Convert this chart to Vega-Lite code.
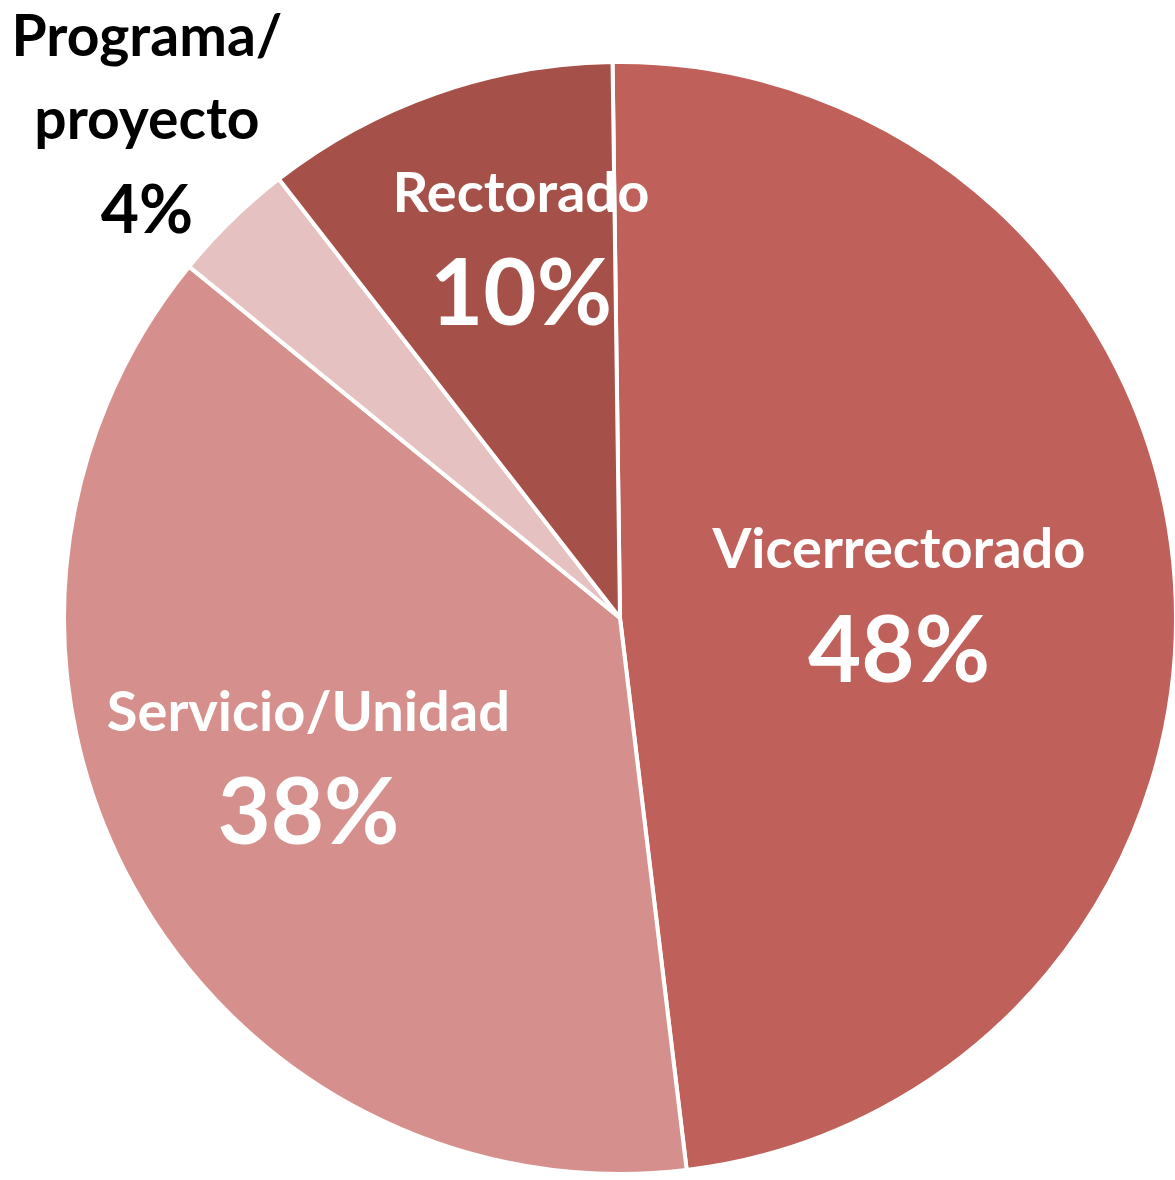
{
  "$schema": "https://vega.github.io/schema/vega-lite/v6.json",
  "width": 1110,
  "height": 1110,
  "padding": {"left": 65, "top": 63, "right": 0, "bottom": 0},
  "autosize": {"type": "none"},
  "background": "white",
  "config": {"view": {"stroke": null}},
  "data": {
    "values": [
      {"cat": "Vicerrectorado", "ord": 1, "value": 48.3, "pct": "48%"},
      {"cat": "Servicio/Unidad", "ord": 2, "value": 37.8, "pct": "38%"},
      {"cat": "Programa/proyecto", "ord": 3, "value": 3.6, "pct": "4%"},
      {"cat": "Rectorado", "ord": 4, "value": 10.3, "pct": "10%"}
    ]
  },
  "encoding": {
    "theta": {"field": "value", "type": "quantitative", "stack": true, "scale": {"range": [-0.0134, 6.2698]}},
    "order": {"field": "ord", "type": "quantitative"}
  },
  "layer": [
    {
      "mark": {"type": "arc", "outerRadius": 556, "stroke": "white", "strokeWidth": 4},
      "encoding": {
        "color": {
          "field": "cat", "type": "nominal", "legend": null,
          "scale": {
            "domain": ["Vicerrectorado", "Servicio/Unidad", "Programa/proyecto", "Rectorado"],
            "range": ["#C0605A", "#D5908E", "#E5C2C1", "#A6504A"]
          }
        }
      }
    },
    {
      "mark": {"type": "text", "radius": 279.6, "dy": -31.5, "fontSize": 56, "font": "Lato", "fontWeight": "bold", "fill": "white", "align": "center", "baseline": "alphabetic"},
      "encoding": {"text": {"condition": {"test": "datum.cat === 'Vicerrectorado'", "field": "cat"}, "value": ""}}
    },
    {
      "mark": {"type": "text", "radius": 279.6, "dy": 82.5, "fontSize": 92, "font": "Lato", "fontWeight": "bold", "fill": "white", "align": "center", "baseline": "alphabetic"},
      "encoding": {"text": {"condition": {"test": "datum.cat === 'Vicerrectorado'", "field": "pct"}, "value": ""}}
    },
    {
      "mark": {"type": "text", "radius": 355.7, "dy": -58.8, "fontSize": 56, "font": "Lato", "fontWeight": "bold", "fill": "white", "align": "center", "baseline": "alphabetic"},
      "encoding": {"text": {"condition": {"test": "datum.cat === 'Servicio/Unidad'", "field": "cat"}, "value": ""}}
    },
    {
      "mark": {"type": "text", "radius": 355.7, "dy": 54.2, "fontSize": 92, "font": "Lato", "fontWeight": "bold", "fill": "white", "align": "center", "baseline": "alphabetic"},
      "encoding": {"text": {"condition": {"test": "datum.cat === 'Servicio/Unidad'", "field": "pct"}, "value": ""}}
    },
    {
      "mark": {"type": "text", "radius": 299.5, "dy": -123.3, "fontSize": 56, "font": "Lato", "fontWeight": "bold", "fill": "white", "align": "center", "baseline": "alphabetic"},
      "encoding": {"text": {"condition": {"test": "datum.cat === 'Rectorado'", "field": "cat"}, "value": ""}}
    },
    {
      "mark": {"type": "text", "radius": 299.5, "dy": -10.3, "fontSize": 92, "font": "Lato", "fontWeight": "bold", "fill": "white", "align": "center", "baseline": "alphabetic"},
      "encoding": {"text": {"condition": {"test": "datum.cat === 'Rectorado'", "field": "pct"}, "value": ""}}
    },
    {
      "mark": {"type": "text", "radius": 677, "dy": -77.7, "fontSize": 57, "font": "Lato", "fontWeight": "bold", "fill": "black", "align": "center", "baseline": "alphabetic"},
      "encoding": {"text": {"condition": {"test": "datum.cat === 'Programa/proyecto'", "value": "Programa/"}, "value": ""}}
    },
    {
      "mark": {"type": "text", "radius": 677, "dy": 5.3, "fontSize": 57, "font": "Lato", "fontWeight": "bold", "fill": "black", "align": "center", "baseline": "alphabetic"},
      "encoding": {"text": {"condition": {"test": "datum.cat === 'Programa/proyecto'", "value": "proyecto"}, "value": ""}}
    },
    {
      "mark": {"type": "text", "radius": 677, "dy": 99.3, "fontSize": 66, "font": "Lato", "fontWeight": "bold", "fill": "black", "align": "center", "baseline": "alphabetic"},
      "encoding": {"text": {"condition": {"test": "datum.cat === 'Programa/proyecto'", "field": "pct"}, "value": ""}}
    }
  ]
}
